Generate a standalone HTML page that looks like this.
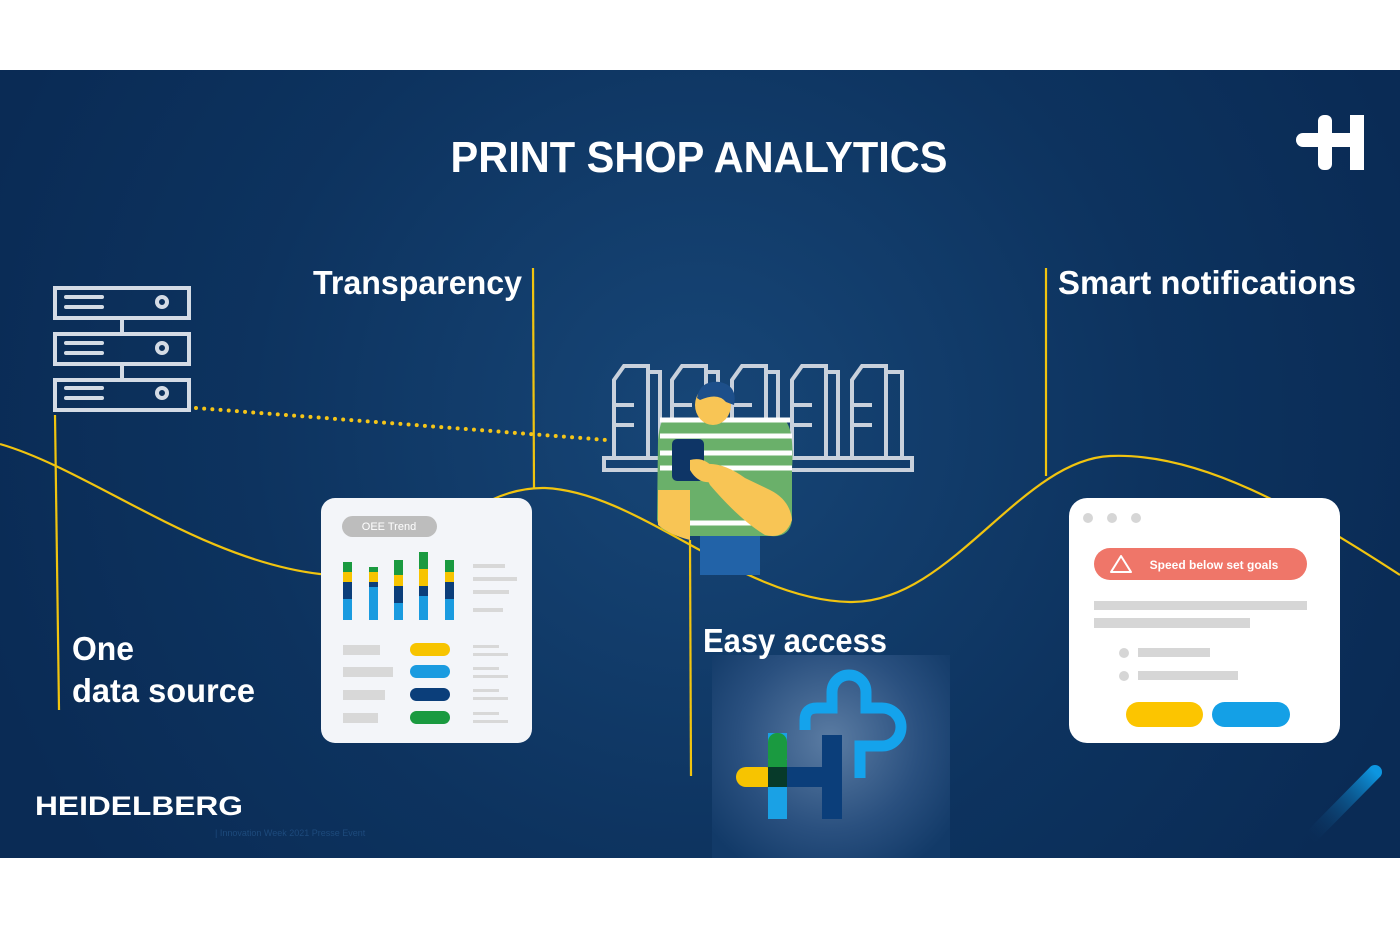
<!DOCTYPE html>
<html><head><meta charset="utf-8"><style>
html,body{margin:0;padding:0;background:#fff;}
svg{display:block}
text{font-family:"Liberation Sans",sans-serif;font-weight:bold;fill:#fff}
</style></head><body>
<svg width="1400" height="934" viewBox="0 0 1400 934" xmlns="http://www.w3.org/2000/svg">
<defs>
<radialGradient id="bg" cx="700" cy="420" r="750" gradientUnits="userSpaceOnUse">
<stop offset="0" stop-color="#174677"/><stop offset="0.6" stop-color="#0d335f"/><stop offset="1" stop-color="#0a2b55"/>
</radialGradient>
<radialGradient id="glow" cx="830" cy="740" r="150" gradientUnits="userSpaceOnUse">
<stop offset="0" stop-color="#5b7ca3"/><stop offset="0.6" stop-color="#2a507f"/><stop offset="1" stop-color="#123a68"/>
</radialGradient>
<linearGradient id="stripe" x1="0" y1="1" x2="1" y2="0">
<stop offset="0" stop-color="#0f3a68" stop-opacity="0"/><stop offset="1" stop-color="#0d96e0"/>
</linearGradient>
</defs>
<rect x="0" y="0" width="1400" height="934" fill="#fff"/>
<rect x="0" y="70" width="1400" height="788" fill="url(#bg)"/>

<text x="699" y="172" font-size="44" text-anchor="middle" textLength="497" lengthAdjust="spacingAndGlyphs">PRINT SHOP ANALYTICS</text>
<g fill="#fff">
<rect x="1318" y="115" width="14" height="55" rx="6"/>
<rect x="1350" y="115" width="14" height="55"/>
<rect x="1296" y="133" width="68" height="14" rx="7"/>
</g>

<rect x="712" y="655" width="238" height="203" fill="url(#glow)"/>

<path d="M0,444 C90,470 200,560 320,574 C420,580 460,486 545,488 C640,492 740,600 850,602 C950,604 1020,460 1110,456 C1200,452 1300,510 1400,575" fill="none" stroke="#f1c40f" stroke-width="2.2"/>
<g stroke="#f1c40f" stroke-width="2.2">
<line x1="55" y1="415" x2="59" y2="710"/>
<line x1="533" y1="268" x2="534" y2="488"/>
<line x1="690" y1="540" x2="691" y2="776"/>
<line x1="1046" y1="268" x2="1046" y2="476"/>
</g>
<line x1="196" y1="408" x2="607" y2="440" stroke="#f5c518" stroke-width="4" stroke-linecap="round" stroke-dasharray="0 8.2"/>

<g fill="none" stroke="#d4dbe5" stroke-width="4">
<rect x="55" y="288" width="134" height="30"/>
<rect x="55" y="334" width="134" height="30"/>
<rect x="55" y="380" width="134" height="30"/>
<line x1="122" y1="318" x2="122" y2="334"/><line x1="122" y1="364" x2="122" y2="380"/>
<circle cx="162" cy="302" r="5"/><circle cx="162" cy="348" r="5"/><circle cx="162" cy="393" r="5"/>
</g>
<g stroke="#d4dbe5" stroke-width="4" stroke-linecap="round">
<line x1="66" y1="297" x2="102" y2="297"/><line x1="66" y1="307" x2="102" y2="307"/>
<line x1="66" y1="343" x2="102" y2="343"/><line x1="66" y1="353" x2="102" y2="353"/>
<line x1="66" y1="388" x2="102" y2="388"/><line x1="66" y1="398" x2="102" y2="398"/>
</g>

<g fill="none" stroke="#c9d1dc" stroke-width="4">
<rect x="604" y="458" width="308" height="12"/>
<path d="M614,458 V380 L624,366 H648 V458 M648,372 H660 V458 M614,405 H634 M614,425 H634"/>
<path d="M672,458 V380 L682,366 H706 V458 M706,372 H718 V458 M672,405 H692 M672,425 H692"/>
<path d="M732,458 V380 L742,366 H766 V458 M766,372 H778 V458 M732,405 H752 M732,425 H752"/>
<path d="M792,458 V380 L802,366 H826 V458 M826,372 H838 V458 M792,405 H812 M792,425 H812"/>
<path d="M852,458 V380 L862,366 H886 V458 M886,372 H902 V458 M852,405 H872 M852,425 H872"/>
</g>

<rect x="700" y="530" width="60" height="45" fill="#2263a8"/>
<path d="M665,418 L780,418 Q795,420 792,470 L792,520 Q790,538 770,536 L690,536 Q660,535 657,520 L658,440 Q660,420 665,418Z" fill="#6ab06a"/>
<g stroke="#fff" stroke-width="5">
<line x1="660" y1="420" x2="790" y2="420"/>
<line x1="660" y1="436" x2="792" y2="436"/>
<line x1="660" y1="453" x2="792" y2="453"/>
<line x1="660" y1="468" x2="792" y2="468"/>
<line x1="690" y1="523" x2="760" y2="523"/>
</g>
<path d="M658,490 L690,490 L690,540 Q670,535 658,525Z" fill="#f8c555"/>
<path d="M700,465 Q720,460 745,478 L770,490 Q790,500 792,520 Q785,540 765,535 Q740,520 710,485Z" fill="#f8c555"/>
<ellipse cx="713" cy="405" rx="18" ry="20" fill="#f8c555"/>
<path d="M697,398 Q700,380 720,382 Q738,386 734,405 L726,402 Q718,392 700,400Z" fill="#1d4f8a"/>
<rect x="672" y="439" width="32" height="42" rx="5" fill="#0e3566"/>
<path d="M690,460 Q705,456 715,470 L712,482 Q698,484 690,470Z" fill="#f8c555"/>

<rect x="321" y="498" width="211" height="245" rx="14" fill="#f3f5f9"/>
<rect x="342" y="516" width="95" height="21" rx="10.5" fill="#bdbdbd"/>
<text x="389" y="530" font-size="11" text-anchor="middle" style="font-weight:normal">OEE Trend</text>
<g>
<rect x="343" y="562" width="9" height="58" fill="#1a9be0"/><rect x="343" y="582" width="9" height="17" fill="#0b3e7a"/><rect x="343" y="572" width="9" height="10" fill="#f7c400"/><rect x="343" y="562" width="9" height="10" fill="#1a9a40"/>
<rect x="369" y="567" width="9" height="53" fill="#1a9be0"/><rect x="369" y="582" width="9" height="5" fill="#0b3e7a"/><rect x="369" y="572" width="9" height="10" fill="#f7c400"/><rect x="369" y="567" width="9" height="5" fill="#1a9a40"/>
<rect x="394" y="560" width="9" height="60" fill="#1a9be0"/><rect x="394" y="586" width="9" height="17" fill="#0b3e7a"/><rect x="394" y="575" width="9" height="11" fill="#f7c400"/><rect x="394" y="560" width="9" height="15" fill="#1a9a40"/>
<rect x="419" y="552" width="9" height="68" fill="#1a9be0"/><rect x="419" y="586" width="9" height="10" fill="#0b3e7a"/><rect x="419" y="569" width="9" height="17" fill="#f7c400"/><rect x="419" y="552" width="9" height="17" fill="#1a9a40"/>
<rect x="445" y="560" width="9" height="60" fill="#1a9be0"/><rect x="445" y="582" width="9" height="17" fill="#0b3e7a"/><rect x="445" y="572" width="9" height="10" fill="#f7c400"/><rect x="445" y="560" width="9" height="12" fill="#1a9a40"/>
</g>
<g fill="#d8d8d8">
<rect x="473" y="564" width="32" height="4"/><rect x="473" y="577" width="44" height="4"/><rect x="473" y="590" width="36" height="4"/><rect x="473" y="608" width="30" height="4"/>
<rect x="343" y="645" width="37" height="10"/><rect x="343" y="667" width="50" height="10"/><rect x="343" y="690" width="42" height="10"/><rect x="343" y="713" width="35" height="10"/>
<rect x="473" y="645" width="26" height="3"/><rect x="473" y="653" width="35" height="3"/>
<rect x="473" y="667" width="26" height="3"/><rect x="473" y="675" width="35" height="3"/>
<rect x="473" y="689" width="26" height="3"/><rect x="473" y="697" width="35" height="3"/>
<rect x="473" y="712" width="26" height="3"/><rect x="473" y="720" width="35" height="3"/>
</g>
<rect x="410" y="643" width="40" height="13" rx="6.5" fill="#f7c400"/>
<rect x="410" y="665" width="40" height="13" rx="6.5" fill="#1a9be0"/>
<rect x="410" y="688" width="40" height="13" rx="6.5" fill="#0b3e7a"/>
<rect x="410" y="711" width="40" height="13" rx="6.5" fill="#1a9a40"/>

<rect x="1069" y="498" width="271" height="245" rx="18" fill="#fff"/>
<g fill="#d6d6d6"><circle cx="1088" cy="518" r="5"/><circle cx="1112" cy="518" r="5"/><circle cx="1136" cy="518" r="5"/>
<rect x="1094" y="601" width="213" height="9"/><rect x="1094" y="618" width="156" height="10"/>
<circle cx="1124" cy="653" r="5"/><circle cx="1124" cy="676" r="5"/>
<rect x="1138" y="648" width="72" height="9"/><rect x="1138" y="671" width="100" height="9"/></g>
<rect x="1094" y="548" width="213" height="32" rx="16" fill="#ef7669"/>
<path d="M1121,556 L1131,572 L1111,572Z" fill="none" stroke="#fff" stroke-width="2" stroke-linejoin="round"/>
<text x="1214" y="569" font-size="12" text-anchor="middle">Speed below set goals</text>
<rect x="1126" y="702" width="77" height="25" rx="12.5" fill="#fcc500"/>
<rect x="1212" y="702" width="78" height="25" rx="12.5" fill="#14a0e6"/>

<path d="M805,730 V720 Q805,708 817,708 H832 V692 A17,17 0 0 1 866,692 V708 H882 A19,19 0 0 1 882,746 H860 V778" fill="none" stroke="#14a3ec" stroke-width="11"/>
<rect x="768" y="733" width="19" height="86" fill="#1aa1e5"/>
<rect x="768" y="733" width="19" height="34" rx="9" fill="#1a9a40"/>
<rect x="768" y="760" width="19" height="15" fill="#1a9a40"/>
<rect x="736" y="767" width="40" height="20" rx="10" fill="#f7c400"/>
<rect x="768" y="767" width="19" height="20" fill="#073a2a"/>
<rect x="787" y="767" width="36" height="20" fill="#0b3e7a"/>
<rect x="822" y="735" width="20" height="84" fill="#0b3e7a"/>

<text x="313" y="294" font-size="33" textLength="209" lengthAdjust="spacingAndGlyphs">Transparency</text>
<text x="1058" y="294" font-size="33" textLength="298" lengthAdjust="spacingAndGlyphs">Smart notifications</text>
<text x="72" y="660" font-size="33" textLength="62" lengthAdjust="spacingAndGlyphs">One</text>
<text x="72" y="702" font-size="33" textLength="183" lengthAdjust="spacingAndGlyphs">data source</text>
<text x="703" y="652" font-size="33" textLength="184" lengthAdjust="spacingAndGlyphs">Easy access</text>

<text x="35" y="815" font-size="27" textLength="208" lengthAdjust="spacingAndGlyphs">HEIDELBERG</text>
<text x="215" y="836" font-size="9" style="fill:#1d4a7c;font-weight:normal">| Innovation Week 2021 Presse Event</text>
<line x1="1310" y1="838" x2="1375" y2="772" stroke="url(#stripe)" stroke-width="14" stroke-linecap="round"/>
</svg>
</body></html>
